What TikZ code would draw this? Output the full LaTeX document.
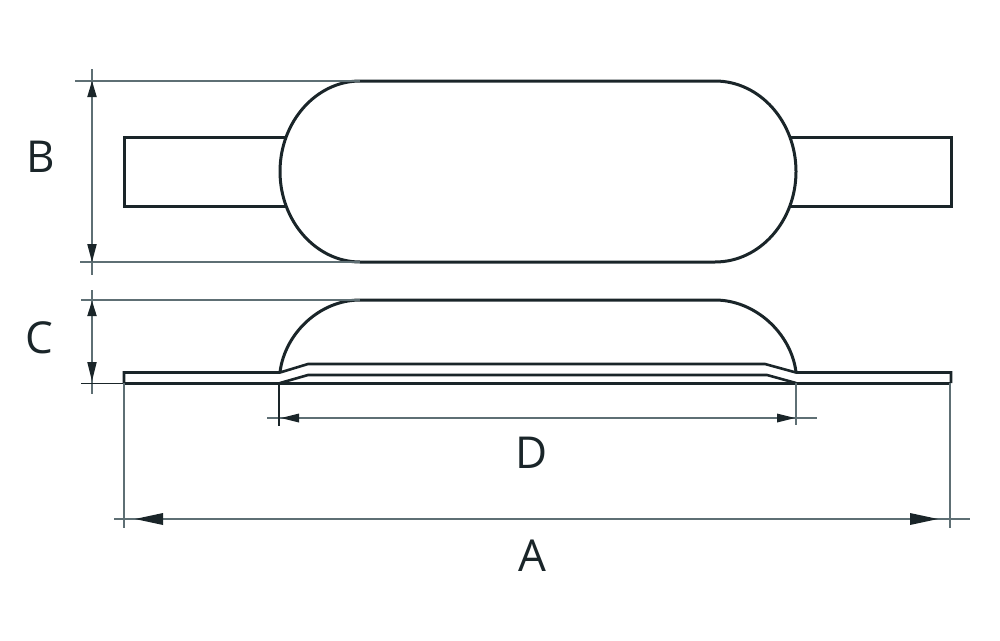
\documentclass[tikz,border=0pt]{standalone}
\usepackage{fontspec}
\setmainfont{Open Sans}
\definecolor{ink}{HTML}{1A2529}
\definecolor{dim}{HTML}{5E6F74}
\tikzset{
 x=1pt,y=-1pt,
 outline/.style={draw=ink,line width=3pt,line join=miter},
 thinoutline/.style={draw=ink,line width=2.6pt},
 dimline/.style={draw=dim,line width=1.6pt},
 leader/.style={draw=dim,line width=1.4pt},
 head/.style={fill=ink,draw=none},
 letter/.style={font=\fontsize{44}{44}\selectfont,text=ink,inner sep=0pt,anchor=center}
}
\begin{document}
\begin{tikzpicture}
\useasboundingbox (0,0) rectangle (1000,640);
% top view: tabs
\draw[outline] (285,137) -- (124,137) -- (124,206) -- (285,206);
\draw[outline] (791,137) -- (951,137) -- (951,206) -- (791,206);
% top view: body
\draw[outline] (360,81) -- (715,81)
  .. controls (760,81) and (796,122) .. (796,171.5)
  .. controls (796,221) and (760,262) .. (715,262)
  -- (360,262)
  .. controls (316,262) and (280,221) .. (280,171.5)
  .. controls (280,122) and (316,81) .. (360,81) -- cycle;
% side view
\draw[outline] (280,372) .. controls (285,333) and (320,300) .. (360,300)
  -- (715,300) .. controls (755,300) and (791,333) .. (796,372);
\draw[thinoutline] (124,383) -- (124,372.5) -- (280,372.5) -- (308,364) -- (765,364) -- (796,372.5) -- (951,372.5) -- (951,383);
\draw[outline] (124,383) -- (951,383);
\draw[thinoutline] (280,383) -- (308,375) -- (767,375) -- (796,383);
% dimension B
\coordinate (bt) at (92,69); \coordinate (bb) at (92,275);
\draw[dimline] (bt) -- (bb);
\draw[leader] (75,81) -- (360,81);
\draw[leader] (80,262) -- (360,262);
\fill[head] (92,81) -- (96.8,97) -- (87.2,97) -- cycle;
\fill[head] (92,262) -- (96.8,244) -- (87.2,244) -- cycle;
% dimension C
\coordinate (ct) at (92,290); \coordinate (cb) at (92,394);
\draw[dimline] (ct) -- (cb);
\draw[leader] (81,300) -- (360,300);
\draw[draw=ink,line width=1pt] (81,383) -- (124,383);
\fill[head] (92,301) -- (96.8,316) -- (87.2,316) -- cycle;
\fill[head] (92,381) -- (96.8,362) -- (87.2,362) -- cycle;
% dimension D
\coordinate (dl) at (267,418); \coordinate (dr) at (817,418);
\draw[dimline] (dl) -- (dr);
\draw[draw=ink,line width=1.2pt] (279,383) -- (279,426);
\draw[dimline] (796,383) -- (796,425);
\fill[head] (281,418) -- (299,413.5) -- (299,422.5) -- cycle;
\fill[head] (795,418) -- (777,413.5) -- (777,422.5) -- cycle;
% dimension A
\coordinate (al) at (114,519); \coordinate (ar) at (970,519);
\draw[dimline] (al) -- (ar);
\draw[dimline] (124,383) -- (124,528);
\draw[dimline] (950,383) -- (950,528);
\fill[head] (135,519) -- (163,513) -- (163,525) -- cycle;
\fill[head] (938,519) -- (910,513) -- (910,525) -- cycle;
% labels
\node[letter] (lb) at (40.5,156.5) {B};
\node[letter] (lc) at (39,338) {C};
\node[letter] (ld) at (532,453) {D};
\node[letter] (la) at (532,556) {A};
\end{tikzpicture}
\end{document}
